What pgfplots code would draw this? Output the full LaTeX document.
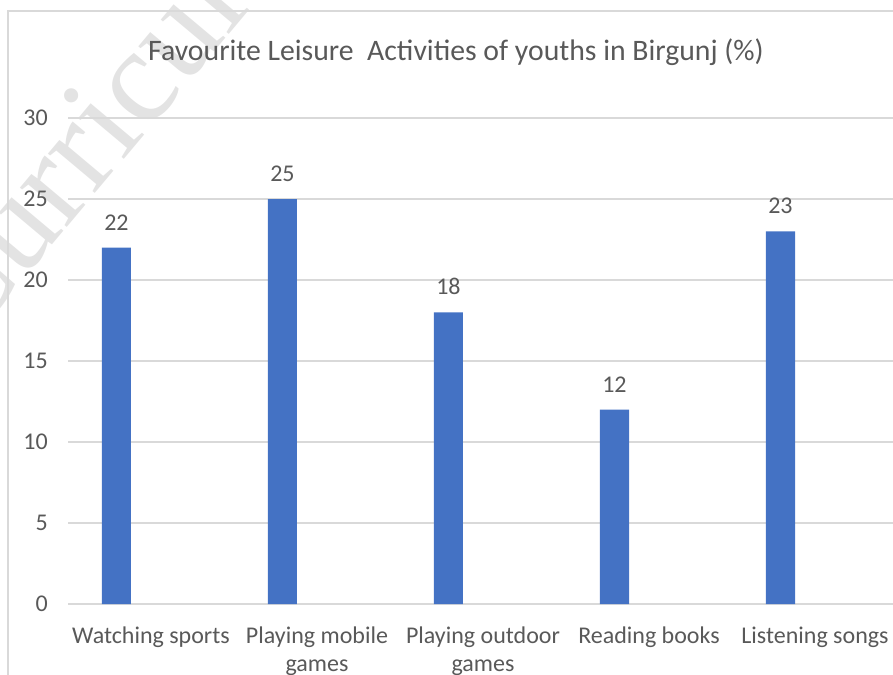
\documentclass[border=0pt]{standalone}
\usepackage{pgfplots}
\pgfplotsset{compat=1.18}
\usepackage{fontspec}
\setmainfont{Carlito}
\newfontfamily\wmfont{Liberation Serif}
\definecolor{barblue}{HTML}{4472C4}
\definecolor{txtgray}{HTML}{595959}
\definecolor{gridgray}{HTML}{D9D9D9}
\begin{document}
\begin{tikzpicture}[x=0.75pt,y=-0.75pt]
\useasboundingbox (0,0) rectangle (893,675);
\clip (0,0) rectangle (893,675);
% watermark
\node[rotate=50,text=black!11,font=\wmfont\fontsize{100}{100}\selectfont] at (128,84) {Curriculum};
% chart frame
\draw[gridgray,line width=1.2pt] (8,680) -- (8,11) -- (900,11);
\node[text=txtgray,font=\fontsize{22.3}{26}\selectfont] at (456,52) {Favourite Leisure\ \ Activities of youths in Birgunj (\%)};
\coordinate (O) at (68,604);
\begin{axis}[
  at={(O)}, anchor=south west,
  x=124.5pt, y=12.15pt,
  xmin=-0.5, xmax=4.5, ymin=0, ymax=30,
  enlargelimits=false,
  ybar, bar width=0.175, bar shift=-0.208,
  axis line style={draw=none}, tick style={draw=none},
  ymajorgrids, grid style={gridgray,line width=1pt},
  ytick={0,5,...,30},
  xtick={0,1,2,3,4},
  xticklabels={Watching sports,Playing mobile\\games,Playing outdoor\\games,Reading books,Listening songs},
  ticklabel style={text=txtgray,font=\fontsize{18}{21}\selectfont},
  /pgf/number format/assume math mode=true,
  xticklabel style={align=center,anchor=north,inner sep=0pt,yshift=-13pt},
  yticklabel style={anchor=east,inner sep=0pt,xshift=-15pt},
  nodes near coords,
  every node near coord/.append style={text=txtgray,font=\fontsize{18}{21}\selectfont,inner sep=0pt,yshift=13pt},
]
\addplot[fill=barblue,draw=none] coordinates {(0,22) (1,25) (2,18) (3,12) (4,23)};
\end{axis}
\end{tikzpicture}
\end{document}
